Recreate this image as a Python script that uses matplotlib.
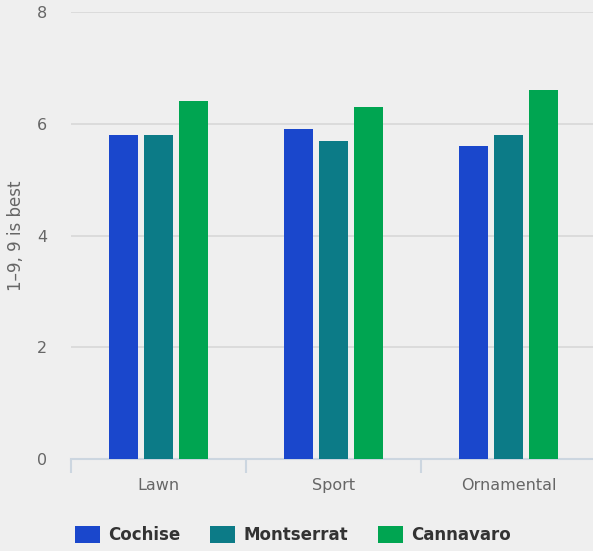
import numpy as np
import matplotlib.pyplot as plt
from matplotlib.ticker import FixedLocator

# data
categories = ["Lawn", "Sport", "Ornamental"]
series_names = ["Cochise", "Montserrat", "Cannavaro"]
cochise = [5.8, 5.9, 5.6]
montserrat = [5.8, 5.7, 5.8]
cannavaro = [6.4, 6.3, 6.6]
colors = ["#1a47cc", "#0c7b87", "#00a551"]

bg = "#efefef"
fig = plt.figure(figsize=(5.93, 5.51), dpi=100, facecolor=bg)
ax = fig.add_axes([71/593, 92/551, 525/593, 447/551], facecolor=bg)

x = np.arange(len(categories))
width = 0.171
step = 0.2
for i, (vals, name) in enumerate(zip([cochise, montserrat, cannavaro], series_names)):
    ax.bar(x + (i - 1) * step, vals, width, color=colors[i], label=name, zorder=3)

ax.set_xlim(-0.5, 2.5)
ax.set_ylim(0, 8)
ax.set_yticks([0, 2, 4, 6, 8])
ax.yaxis.grid(True, color="#d8d8d8", linewidth=1.2, zorder=0)
ax.set_axisbelow(True)

for s in ["top", "right", "left"]:
    ax.spines[s].set_visible(False)
ax.spines["bottom"].set_color("#ccd6e0")
ax.spines["bottom"].set_linewidth(1.5)

ax.set_xticks(x)
ax.set_xticklabels(categories)
ax.xaxis.set_minor_locator(FixedLocator([-0.5, 0.5, 1.5, 2.5]))
ax.tick_params(axis="x", which="major", length=0, pad=14, labelsize=11.5, labelcolor="#666666")
ax.tick_params(axis="x", which="minor", length=10, width=1.5, color="#ccd6e0")
ax.tick_params(axis="y", length=0, pad=17, labelsize=11.5, labelcolor="#666666")

ax.set_ylabel("1–9, 9 is best", fontsize=12, color="#666666", labelpad=9)

fig.legend(loc="center", bbox_to_anchor=(293/593, 16/551), ncol=3, frameon=False,
           prop={"size": 12, "weight": "bold"}, labelcolor="#333333",
           handlelength=1.5, handleheight=1.14, handletextpad=0.48, columnspacing=1.8)

fig.savefig("out.png", dpi=100, facecolor=bg)
